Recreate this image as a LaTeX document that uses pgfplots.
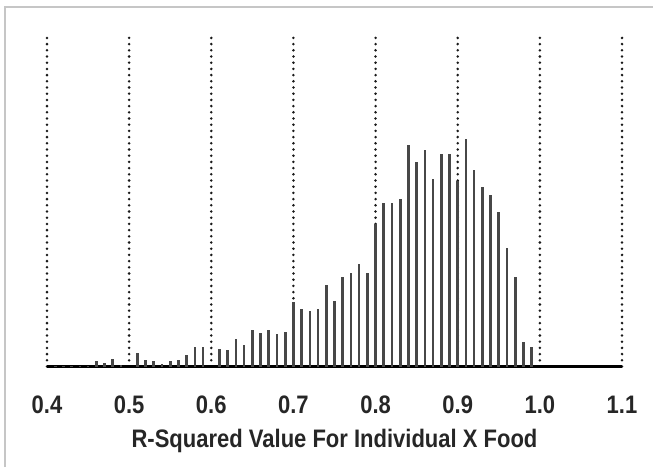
\documentclass[border=0pt]{standalone}
\usepackage{pgfplots}
\pgfplotsset{compat=1.18}
\usepackage{fontspec}
\setmainfont{Liberation Sans}
\usepackage{graphicx}
\newcommand{\tl}[1]{\scalebox{1}[1.15]{#1}}
\pgfplotstableread{
x h
0.41 1
0.42 1
0.43 1
0.44 0.5
0.45 0.5
0.46 6
0.47 4
0.48 8
0.49 2
0.51 14
0.52 7
0.53 6
0.54 2.5
0.55 6
0.56 7
0.57 12
0.58 20
0.59 20
0.61 18
0.62 17
0.63 28
0.64 22
0.65 37
0.66 34
0.67 37
0.68 33
0.69 35
0.70 65
0.71 58
0.72 56
0.73 58
0.74 82
0.75 66
0.76 90
0.77 94
0.78 103
0.79 94
0.80 143
0.81 164
0.82 164
0.83 168
0.84 222
0.85 205
0.86 217
0.87 188
0.88 213
0.89 213
0.90 186
0.91 228
0.92 197
0.93 180
0.94 172
0.95 155
0.96 119
0.97 90
0.98 25
0.99 20
}\bars
\begin{document}
\begin{tikzpicture}[x=1pt,y=1pt]
\path[use as bounding box] (0,0) rectangle (653,467);
\draw[gray!45, line width=2pt] (5,0) -- (5,459.5) -- (653,459.5);
\begin{axis}[
  at={(47pt,100.5pt)}, anchor=origin,
  scale only axis, width=575pt, height=334pt,
  xmin=0.4, xmax=1.1, ymin=0, ymax=334,
  axis x line=bottom, hide y axis,
  x axis line style={line width=3pt, -, black},
  xtick={0.4,0.5,0.6,0.7,0.8,0.9,1.0,1.1},
  xticklabels={\tl{0.4},\tl{0.5},\tl{0.6},\tl{0.7},\tl{0.8},\tl{0.9},\tl{1.0},\tl{1.1}},
  major tick length=0pt,
  xticklabel style={font=\fontsize{22}{22}\selectfont\bfseries, text=black!85, anchor=center, yshift=-38pt},
  xlabel={\tl{R-Squared Value For Individual X Food}},
  xlabel style={font=\fontsize{22}{22}\selectfont\bfseries, text=black!85, at={(axis description cs:0.5,0)}, anchor=center, yshift=-74pt},
  xmajorgrids,
  grid style={black!90, line width=2.8pt, line cap=round, dash pattern=on 0pt off 6.2pt},
  clip=false,
]
\addplot[ycomb, black!72, line width=2.6pt, mark=none] table[x=x,y=h] {\bars};
\end{axis}
\end{tikzpicture}
\end{document}
